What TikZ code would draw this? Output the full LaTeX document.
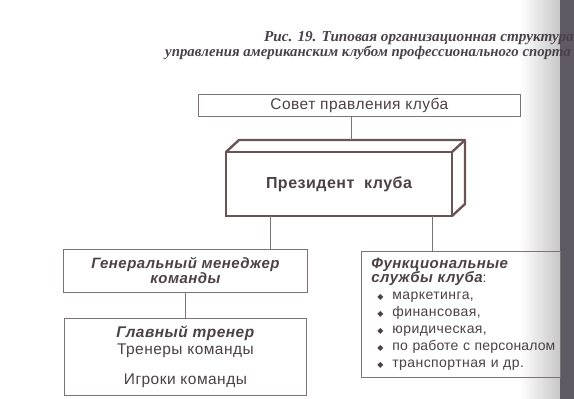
\documentclass[tikz,border=0pt]{standalone}
\usepackage{fontspec}
\setmainfont{Liberation Serif}
\setsansfont{Liberation Sans}[LetterSpace=3]
\newfontfamily\symfont{DejaVu Sans}
\usepackage{tikz}
\usetikzlibrary{positioning}

\definecolor{ink}{RGB}{75,65,70}
\definecolor{rim}{RGB}{125,115,115}
\definecolor{heavy}{RGB}{105,85,85}
\definecolor{capink}{RGB}{75,65,75}
\definecolor{band}{RGB}{95,90,100}

\newcommand{\itm}{\hspace*{6pt}\makebox[15pt][l]{\symfont\fontsize{8}{8}\selectfont ◆}}

\begin{document}
\begin{tikzpicture}[x=1pt, y=-1pt,
  node distance=0mm,
  box/.style={draw=rim, line width=0.8pt, inner sep=0pt, text=ink, font=\sffamily\fontsize{15.5}{17}\selectfont},
  wire/.style={draw=rim, line width=0.8pt},
  caption/.style={inner sep=0pt, text=capink, font=\rmfamily\bfseries\itshape\fontsize{14.8}{17}\selectfont}
]
\useasboundingbox (0,0) rectangle (574,399);
\fill[white] (0,0) rectangle (574,399);
\shade[left color=white, right color=black!22] (520,0) rectangle (560,399);
\fill[band] (560,0) rectangle (574,399);

% caption
\node[caption, anchor=base west, font=\rmfamily\bfseries\itshape\fontsize{15.2}{17}\selectfont] (cap1) at (264,41) {Рис. 19. Типовая организационная структура};
\node[caption, anchor=base west] (cap2) at (165,56) {управления американским клубом профессионального спорта};

\node[box, anchor=north west, minimum width=322pt, minimum height=22pt] (council) at (198,94) {Совет правления клуба};

% president box with 3d faces
\node[box, draw=heavy, line width=2.4pt, outer sep=0pt, anchor=north west, minimum width=226pt, minimum height=64pt, font=\sffamily\bfseries\fontsize{16}{18}\selectfont] (pres) at (226,152) {Президент\ \ клуба};
\draw[heavy, line width=2.4pt, line join=round] (pres.north west) -- ++(13,-12) -- ++(226,0) -- ++(0,64) -- (pres.south east);
\draw[heavy, line width=2.4pt] (pres.north east) -- ++(13,-12);

\node[box, anchor=north west, minimum width=244pt, minimum height=43pt, align=center, font=\sffamily\bfseries\itshape\fontsize{15}{15}\selectfont] (gm) at (63,249) {Генеральный менеджер\\команды};
\node[box, below=25pt of gm, minimum width=242pt, minimum height=77pt, align=center] (coach) {{\bfseries\itshape Главный тренер}\\Тренеры команды\\[13pt]Игроки команды};

\node[box, anchor=north west, minimum width=199pt, minimum height=126pt, inner xsep=10pt, text width=179pt, align=left, font=\sffamily\fontsize{14}{17}\selectfont] (srv) at (361,251) {{\fontsize{15}{15}\selectfont\bfseries\itshape Функциональные}\\[-3pt]
{\fontsize{15}{15}\selectfont\bfseries\itshape службы клуба}:\\
\itm маркетинга,\\
\itm финансовая,\\
\itm юридическая,\\
\makebox[179pt][l]{\itm\addfontfeature{LetterSpace=1}по работе с персоналом}\\
\itm транспортная и др.};

\coordinate (ptop) at (351,140);
\coordinate (lft) at (270,0);
\coordinate (rgt) at (432,0);
\draw[wire] (council.south -| ptop) -- (ptop);
\draw[wire] (pres.south -| lft) -- (gm.north -| lft);
\draw[wire] (pres.south -| rgt) -- (srv.north -| rgt);
\draw[wire] (gm.south) -- (coach.north);
\end{tikzpicture}
\end{document}
